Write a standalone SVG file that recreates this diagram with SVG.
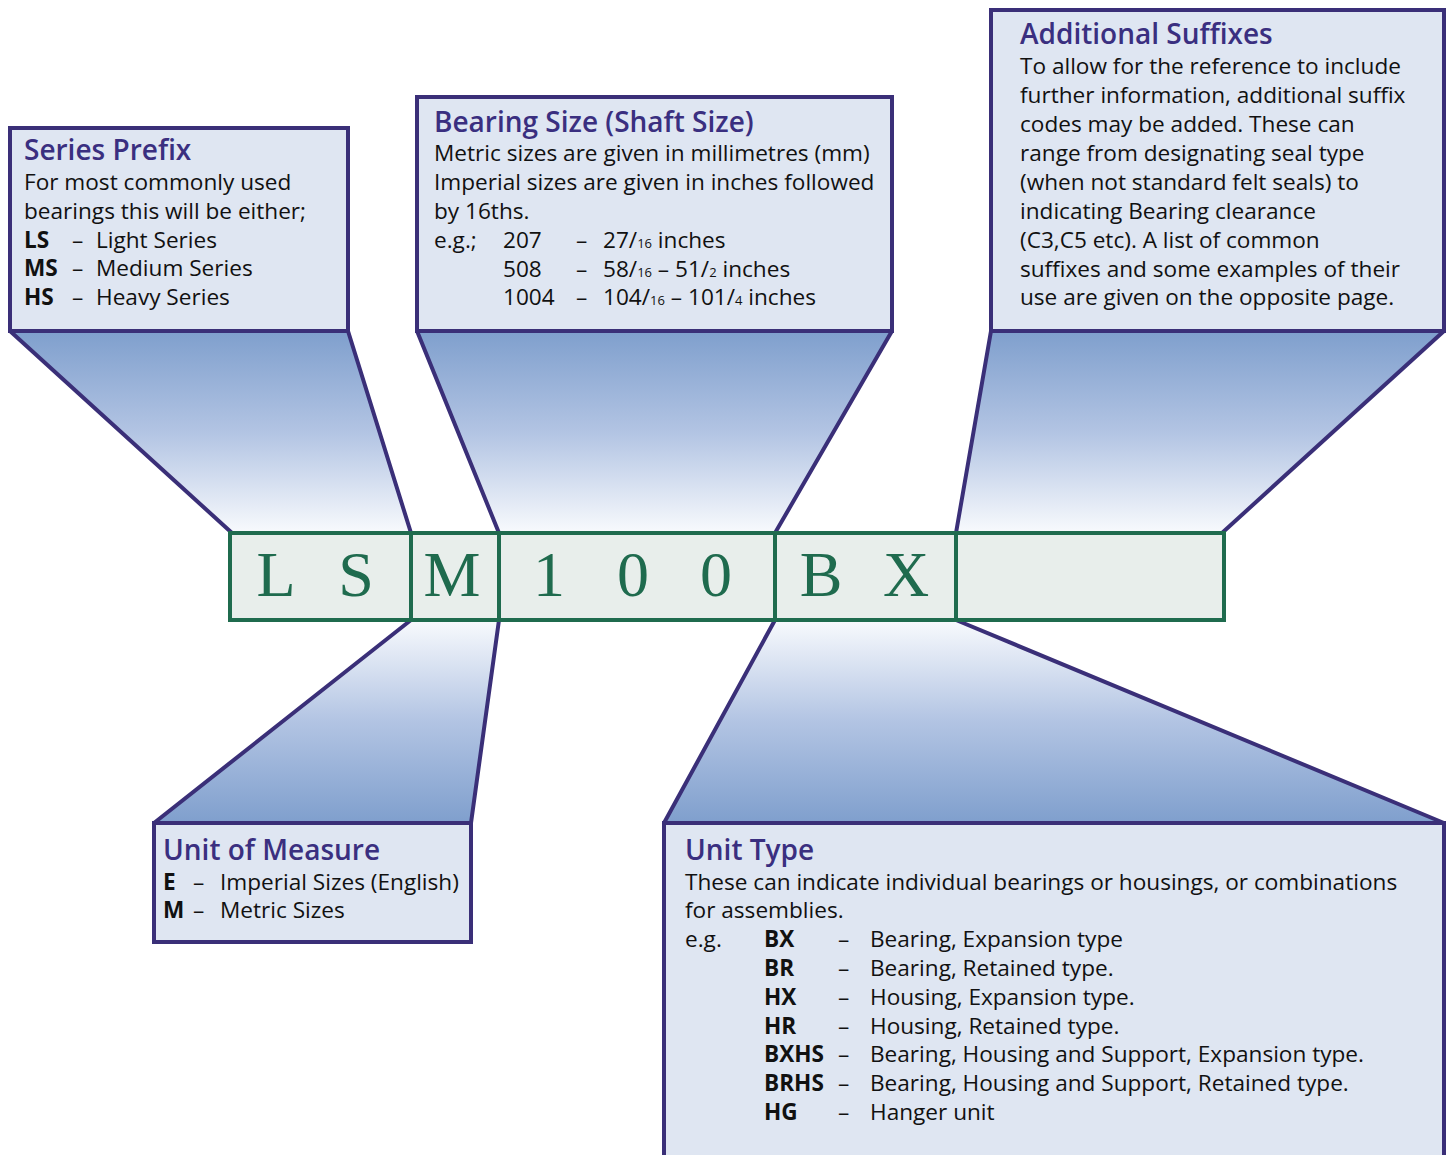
<svg xmlns="http://www.w3.org/2000/svg" width="1453" height="1155" viewBox="0 0 1453 1155">
<defs>
<linearGradient id="gDown" x1="0" y1="0" x2="0" y2="1">
<stop offset="0" stop-color="#7f9fcd"/>
<stop offset="0.5" stop-color="#b2c4e3"/>
<stop offset="1" stop-color="#f8fafd"/>
</linearGradient>
<linearGradient id="gUp" x1="0" y1="1" x2="0" y2="0">
<stop offset="0" stop-color="#7f9fcd"/>
<stop offset="0.5" stop-color="#b2c4e3"/>
<stop offset="1" stop-color="#f8fafd"/>
</linearGradient>
<style>
.box{fill:#dfe6f2;stroke:#3a2f78;stroke-width:4}
.edge{stroke:#3a2f78;stroke-width:4;fill:none;stroke-linecap:round}
.title{font-family:"Open Sans","Noto Sans",sans-serif;font-size:28px;font-weight:600;fill:#3a2f80}
.body{font-family:"Open Sans","Noto Sans",sans-serif;font-size:22.6px;fill:#111}
.b{font-weight:700}
.sub{font-size:13px}
.code{fill:#e8eeeb;stroke:#1f6b4e;stroke-width:4}
.div{stroke:#1f6b4e;stroke-width:4}
.letter{font-family:"Liberation Serif","Times New Roman",serif;font-size:64px;fill:#1f6b4e;text-anchor:middle}
</style>
</defs>
<g id="connectors">
<polygon points="10,331 348,331 411,533 232,533" fill="url(#gDown)"/>
<line class="edge" x1="10" y1="331" x2="232" y2="533"/>
<line class="edge" x1="348" y1="331" x2="411" y2="533"/>
<polygon points="417,331 892,331 775,533 499,533" fill="url(#gDown)"/>
<line class="edge" x1="417" y1="331" x2="499" y2="533"/>
<line class="edge" x1="892" y1="331" x2="775" y2="533"/>
<polygon points="991,331 1444,331 1222,533 956,533" fill="url(#gDown)"/>
<line class="edge" x1="991" y1="331" x2="956" y2="533"/>
<line class="edge" x1="1444" y1="331" x2="1222" y2="533"/>
<polygon points="411,620 499,620 471,823 154,823" fill="url(#gUp)"/>
<line class="edge" x1="411" y1="620" x2="154" y2="823"/>
<line class="edge" x1="499" y1="620" x2="471" y2="823"/>
<polygon points="775,620 956,620 1444,823 664,823" fill="url(#gUp)"/>
<line class="edge" x1="775" y1="620" x2="664" y2="823"/>
<line class="edge" x1="956" y1="620" x2="1444" y2="823"/>
</g>
<g id="series-prefix">
<rect class="box" x="10" y="128" width="338" height="203"/>
<text class="title" x="24" y="160">Series Prefix</text>
<text class="body" x="24" y="190">For most commonly used</text>
<text class="body" x="24" y="219">bearings this will be either;</text>
<text class="body" y="248"><tspan class="b" x="24">LS</tspan><tspan x="72">–</tspan><tspan x="96">Light Series</tspan></text>
<text class="body" y="276"><tspan class="b" x="24">MS</tspan><tspan x="72">–</tspan><tspan x="96">Medium Series</tspan></text>
<text class="body" y="305"><tspan class="b" x="24">HS</tspan><tspan x="72">–</tspan><tspan x="96">Heavy Series</tspan></text>
</g>
<g id="bearing-size">
<rect class="box" x="417" y="97" width="475" height="234"/>
<text class="title" x="434" y="132">Bearing Size (Shaft Size)</text>
<text class="body" x="434" y="161">Metric sizes are given in millimetres (mm)</text>
<text class="body" x="434" y="190">Imperial sizes are given in inches followed</text>
<text class="body" x="434" y="219">by 16ths.</text>
<text class="body" y="248"><tspan x="434">e.g.;</tspan><tspan x="503">207</tspan><tspan x="576">–</tspan><tspan x="603">27/</tspan><tspan class="sub">16</tspan><tspan> inches</tspan></text>
<text class="body" y="277"><tspan x="503">508</tspan><tspan x="576">–</tspan><tspan x="603">58/</tspan><tspan class="sub">16</tspan><tspan> – 51/</tspan><tspan class="sub">2</tspan><tspan> inches</tspan></text>
<text class="body" y="305"><tspan x="503">1004</tspan><tspan x="576">–</tspan><tspan x="603">104/</tspan><tspan class="sub">16</tspan><tspan> – 101/</tspan><tspan class="sub">4</tspan><tspan> inches</tspan></text>
</g>
<g id="additional-suffixes">
<rect class="box" x="991" y="10" width="453" height="321"/>
<text class="title" x="1020" y="44">Additional Suffixes</text>
<text class="body" x="1020" y="74">To allow for the reference to include</text>
<text class="body" x="1020" y="103">further information, additional suffix</text>
<text class="body" x="1020" y="132">codes may be added. These can</text>
<text class="body" x="1020" y="161">range from designating seal type</text>
<text class="body" x="1020" y="190">(when not standard felt seals) to</text>
<text class="body" x="1020" y="219">indicating Bearing clearance</text>
<text class="body" x="1020" y="248">(C3,C5 etc). A list of common</text>
<text class="body" x="1020" y="277">suffixes and some examples of their</text>
<text class="body" x="1020" y="305">use are given on the opposite page.</text>
</g>
<g id="code">
<rect class="code" x="230" y="533" width="994" height="87"/>
<line class="div" x1="411" y1="533" x2="411" y2="620"/>
<line class="div" x1="499" y1="533" x2="499" y2="620"/>
<line class="div" x1="775" y1="533" x2="775" y2="620"/>
<line class="div" x1="956" y1="533" x2="956" y2="620"/>
<text class="letter" x="276" y="596">L</text>
<text class="letter" x="356" y="596">S</text>
<text class="letter" x="452" y="596">M</text>
<text class="letter" x="549" y="596">1</text>
<text class="letter" x="633" y="596">0</text>
<text class="letter" x="716" y="596">0</text>
<text class="letter" x="821" y="596">B</text>
<text class="letter" x="906" y="596">X</text>
</g>
<g id="unit-of-measure">
<rect class="box" x="154" y="823" width="317" height="119"/>
<text class="title" x="163" y="860">Unit of Measure</text>
<text class="body" y="890"><tspan class="b" x="163">E</tspan><tspan x="193">–</tspan><tspan x="220">Imperial Sizes (English)</tspan></text>
<text class="body" y="918"><tspan class="b" x="163">M</tspan><tspan x="193">–</tspan><tspan x="220">Metric Sizes</tspan></text>
</g>
<g id="unit-type">
<rect class="box" x="664" y="823" width="780" height="340"/>
<text class="title" x="685" y="860">Unit Type</text>
<text class="body" x="685" y="890">These can indicate individual bearings or housings, or combinations</text>
<text class="body" x="685" y="918">for assemblies.</text>
<text class="body" y="947"><tspan x="685">e.g.</tspan><tspan class="b" x="764">BX</tspan><tspan x="838">–</tspan><tspan x="870">Bearing, Expansion type</tspan></text>
<text class="body" y="976"><tspan class="b" x="764">BR</tspan><tspan x="838">–</tspan><tspan x="870">Bearing, Retained type.</tspan></text>
<text class="body" y="1005"><tspan class="b" x="764">HX</tspan><tspan x="838">–</tspan><tspan x="870">Housing, Expansion type.</tspan></text>
<text class="body" y="1034"><tspan class="b" x="764">HR</tspan><tspan x="838">–</tspan><tspan x="870">Housing, Retained type.</tspan></text>
<text class="body" y="1062"><tspan class="b" x="764">BXHS</tspan><tspan x="838">–</tspan><tspan x="870">Bearing, Housing and Support, Expansion type.</tspan></text>
<text class="body" y="1091"><tspan class="b" x="764">BRHS</tspan><tspan x="838">–</tspan><tspan x="870">Bearing, Housing and Support, Retained type.</tspan></text>
<text class="body" y="1120"><tspan class="b" x="764">HG</tspan><tspan x="838">–</tspan><tspan x="870">Hanger unit</tspan></text>
</g>
</svg>
